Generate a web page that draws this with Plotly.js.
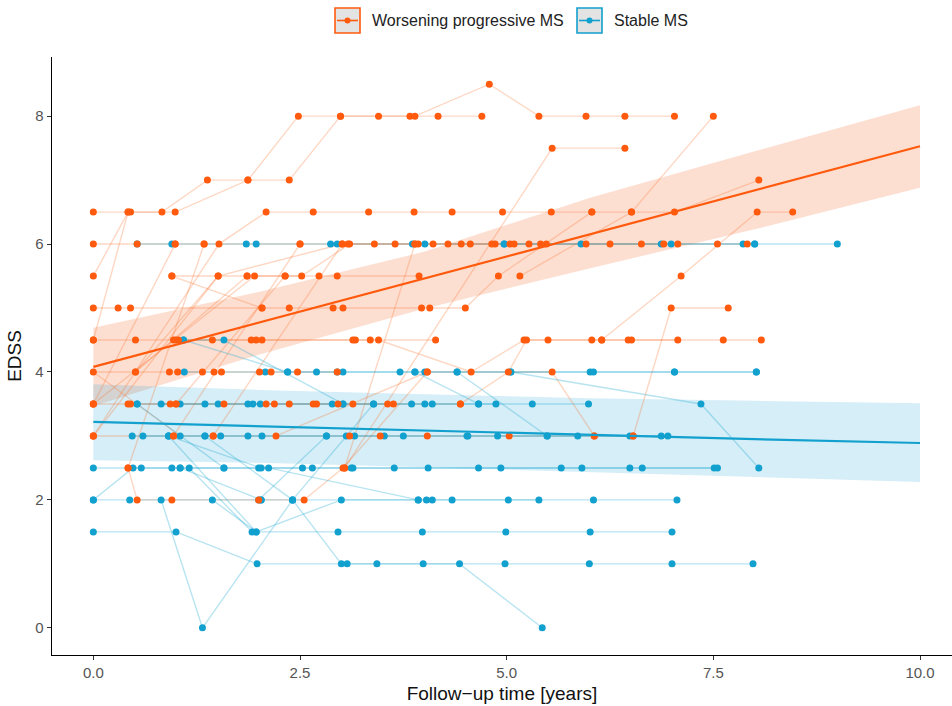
<!DOCTYPE html>
<html><head><meta charset="utf-8">
<script src="https://cdn.plot.ly/plotly-3.0.1.min.js"></script>
<style>html,body{margin:0;padding:0;background:#fff}#chart{width:952px;height:706px}</style>
</head><body><div id="chart"></div>
<script>
// ---- Worsening progressive MS trajectories: [time (years), EDSS]
const w01 = [[0,5.5],[0.42,6.5],[0.83,6.5],[1.38,7],[1.87,7],[2.48,8],[2.99,8],[3.45,8],[3.83,8],[4.17,8],[4.70,8]];
const w02 = [[0,6.5],[0.45,6.5],[0.99,6.5],[1.87,7],[2.37,7],[2.99,8],[3.89,8],[4.79,8.5],[5.39,8],[5.96,8],[6.43,8],[7.03,8]];
const w03 = [[3.04,2.5],[5.55,7.5],[6.43,7.5]];
const w04 = [[0,3],[1.52,6],[2.09,6.5],[2.66,6.5],[3.33,6.5],[3.88,6.5],[4.34,6.5],[4.95,6.5],[5.54,6.5],[6.03,6.5],[6.51,6.5],[7.03,6.5],[8.05,7]];
const w05 = [[5.16,5.5],[6.51,6.5],[7.50,8]];
const w06 = [[6.15,4.5],[7.11,5.5],[8.03,6.5],[8.46,6.5]];
const w07 = [[0,6],[0.53,6],[0.99,6],[1.34,6],[2.50,6],[3.08,6],[3.65,6],[4.11,6],[4.56,6],[5.04,6],[5.48,6],[6.25,6],[6.90,6],[7.55,6],[7.91,6]];
const w08 = [[0.51,4],[1.51,5.5],[3.01,6],[3.89,6],[4.45,6],[4.86,6],[5.41,6],[5.96,6],[6.63,6],[7.07,6]];
const w09 = [[0.95,5.5],[1.86,5.5],[2.32,5.5],[2.73,5.5],[2.95,5.5],[3.94,5.5]];
const w10 = [[0,3.5],[1.95,5.5],[2.52,5.5],[3.10,6],[3.40,6],[3.93,6],[4.29,6],[4.82,6],[5.09,6],[5.27,6]];
const w11 = [[0,5],[0.30,5],[0.45,5],[2.04,5],[2.37,5],[2.90,5],[3.02,5],[3.97,5],[4.07,5],[4.50,5],[4.90,5.5],[6.03,6.5]];
const w12 = [[6.53,3],[6.99,5],[7.68,5]];
const w13 = [[0,4.5],[0.51,4.5],[1.00,4.5],[1.44,4.5],[1.97,4.5],[3.14,4.5],[3.35,4.5],[4.14,4.5]];
const w14 = [[0.97,4.5],[1.03,4.5],[1.91,4.5],[2.04,4.5],[3.17,4.5],[3.45,4.5],[4.57,4],[5.21,4.5],[5.50,4.5],[6.15,4.5],[6.51,4.5],[7.62,4.5],[8.08,4.5]];
const w15 = [[4.44,3.5],[5.02,4],[5.24,4.5],[6.03,4.5],[6.47,4.5],[7.07,4.5]];
const w16 = [[0,4],[0.92,4],[1.02,4],[1.32,4],[1.46,4],[1.55,4],[2.01,4],[2.15,4],[2.47,4],[2.95,4]];
const w17 = [[2.21,3],[4.04,4],[5.55,4],[6.06,3]];
const w18 = [[0,3.5],[0.42,3.5],[0.93,3.5],[1.58,3.5],[2.09,3.5],[2.37,3.5],[2.66,3.5],[2.96,3.5],[3.56,3.5]];
const w19 = [[0.45,3.5],[1.00,3.5],[2.19,3.5],[2.70,3.5],[3.14,3.5],[3.63,3.5],[4.44,3.5]];
const w20 = [[0,3],[0.97,3],[1.45,3],[3.10,3],[3.47,3],[4.04,3],[5.03,3],[6.06,3],[6.53,3]];
const w21 = [[0.42,2.5],[0.53,2],[0.95,2],[2.00,2],[2.55,2],[3.02,2.5],[4.04,4]];
const w22 = [[0,4.5],[0.42,6.5]];
const w23 = [[0,3.5],[0.99,6]];
const w24 = [[0.42,2.5],[1.34,6]];
const w25 = [[0,3],[1.51,5.5]];
const w26 = [[0.51,4],[1.86,5.5]];
const w27 = [[0.97,3],[2.50,6]];
const w28 = [[1.00,3.5],[2.32,5.5]];
const w29 = [[1.45,3],[3.01,6]];
const w30 = [[0.95,5.5],[2.04,5]];
const w31 = [[3.04,2.5],[3.89,6]];
const w32 = [[0,4],[1.05,3]];
const worsening = [w01,w02,w03,w04,w05,w06,w07,w08,w09,w10,w11,w12,w13,w14,w15,w16,w17,w18,w19,w20,w21,
                   w22,w23,w24,w25,w26,w27,w28,w29,w30,w31];

// ---- Stable MS trajectories
const s01 = [[0,1.5],[1.00,1.5],[1.98,1],[3.07,1],[3.43,1],[4.43,1],[5.43,0]];
const s02 = [[0.82,2],[1.32,0],[2.41,2],[3.00,1],[3.99,1],[4.98,1],[6.00,1],[7.00,1],[7.98,1]];
const s03 = [[1.16,2.5],[1.92,1.5],[2.96,1.5],[3.98,1.5],[4.99,1.5],[6.01,1.5],[7.00,1.5]];
const s04 = [[1.44,2],[1.97,1.5],[3.00,2],[4.03,2],[5.02,2],[6.05,2],[7.06,2]];
const s05 = [[0,2],[0.44,2],[2.03,2],[3.93,2],[4.10,2],[4.34,2],[5.39,2]];
const s06 = [[0,2],[0.48,2.5],[0.95,2.5],[1.58,2.5],[2.53,2.5],[3.12,2.5],[3.64,2.5],[4.66,2.5],[5.66,2.5],[6.49,2.5],[7.51,2.5]];
const s07 = [[0,2.5],[0.58,2.5],[1.05,2.5],[2.00,2.5],[2.65,2.5],[3.14,2.5],[4.05,2.5],[4.93,2.5],[5.91,2.5],[6.64,2.5],[7.55,2.5]];
const s08 = [[0.91,3],[2.03,2.5],[2.12,2.5],[3.93,2]];
const s09 = [[5.05,4],[7.35,3.5],[8.05,2.5]];
const s10 = [[0.53,3.5],[1.05,3.5],[1.51,3.5],[1.93,3.5],[2.89,3.5],[3.39,3.5],[3.85,3.5],[4.66,3.5],[5.31,3.5],[5.99,3.5]];
const s11 = [[0.82,3.5],[1.35,3.5],[1.87,3.5],[2.02,3.5],[3.02,3.5],[4.01,3.5],[4.10,3.5],[4.87,3.5]];
const s12 = [[0.47,3],[0.91,3],[1.35,3],[1.87,3],[2.82,3],[3.16,3],[3.75,3],[4.53,3],[5.49,3],[6.49,3],[6.95,3]];
const s13 = [[0.60,3],[1.05,3],[1.54,3],[2.04,3],[3.06,3],[3.52,3],[4.52,3],[4.89,3],[5.86,3],[6.87,3]];
const s14 = [[1.10,4],[2.08,4],[2.70,4],[3.02,4],[3.71,4],[4.40,4],[5.05,4],[6.01,4],[7.03,4],[8.02,4]];
const s15 = [[2.35,4],[2.95,4],[3.89,4],[4.01,4],[6.05,4],[7.03,4],[8.02,4]];
const s16 = [[1.09,4.5],[1.58,4.5],[3.02,3.5]];
const s17 = [[0.53,6],[0.95,6],[1.85,6],[1.97,6],[2.87,6],[2.95,6],[3.86,6],[4.01,6],[4.97,6],[5.90,6],[6.87,6],[6.99,6],[7.86,6],[8.00,6]];
const s18 = [[4.97,6],[8.00,6],[9.00,6]];
const s20 = [[1.09,4.5],[2.35,4]];
const s21 = [[0.91,3],[1.97,1.5]];
const s22 = [[1.05,2.5],[2.03,2]];
const s23 = [[2.00,2],[2.82,3]];
const s24 = [[2.41,2],[3.39,3.5]];
const s25 = [[3.89,4],[4.66,3.5]];
const s26 = [[4.40,4],[5.49,3]];
const s27 = [[0.53,3.5],[1.58,2.5]];
const s28 = [[1.35,3],[2.41,2]];
const stable = [s01,s02,s03,s04,s05,s06,s07,s08,s09,s10,s11,s12,s13,s14,s15,s16,s17,s18,
                s20,s21,s22,s23,s24,s25,s26,s27,s28];

// ---- Fitted trends with confidence band
const fitX = [0, 2, 4, 6, 8, 10];
const worseFit = [4.08, 4.77, 5.46, 6.15, 6.84, 7.53];
const worseLo  = [3.47, 4.27, 4.99, 5.62, 6.23, 6.88];
const worseHi  = [4.69, 5.25, 5.88, 6.72, 7.45, 8.17];
const stableFit = [3.22, 3.15, 3.08, 3.02, 2.95, 2.89];
const stableLo  = [2.62, 2.58, 2.51, 2.44, 2.36, 2.28];
const stableHi  = [3.81, 3.72, 3.65, 3.59, 3.55, 3.51];

const xTicks = [0, 2.5, 5, 7.5, 10];
const xTickText = ['0.0', '2.5', '5.0', '7.5', '10.0'];
const yTicks = [0, 2, 4, 6, 8];
const legendLabels = ['Worsening progressive MS', 'Stable MS'];

const ORANGE = '#FF5A0D';
const BLUE = '#12A0CE';

function lineXY(groups) {
  const x = [], y = [];
  groups.forEach(g => { g.forEach(p => { x.push(p[0]); y.push(p[1]); }); x.push(null); y.push(null); });
  return {x, y};
}
function ptsXY(groups) {
  const x = [], y = [];
  groups.forEach(g => g.forEach(p => { x.push(p[0]); y.push(p[1]); }));
  return {x, y};
}
function band(lo, hi) {
  return {x: fitX.concat(fitX.slice().reverse()), y: hi.concat(lo.slice().reverse())};
}

const wl = lineXY(worsening.concat([w32])), sl = lineXY(stable);
const wp = ptsXY(worsening), sp = ptsXY(stable);
const wb = band(worseLo, worseHi), sb = band(stableLo, stableHi);

const traces = [
  {x: wb.x, y: wb.y, type: 'scatter', mode: 'lines', fill: 'toself', fillcolor: 'rgba(245,110,50,0.22)', line: {width: 0}, hoverinfo: 'skip', showlegend: false},
  {x: sb.x, y: sb.y, type: 'scatter', mode: 'lines', fill: 'toself', fillcolor: 'rgba(25,160,210,0.18)', line: {width: 0}, hoverinfo: 'skip', showlegend: false},
  {x: wl.x, y: wl.y, type: 'scatter', mode: 'lines', connectgaps: false, line: {color: 'rgba(250,110,40,0.28)', width: 1.4}, showlegend: false},
  {x: sl.x, y: sl.y, type: 'scatter', mode: 'lines', connectgaps: false, line: {color: 'rgba(20,165,210,0.30)', width: 1.4}, showlegend: false},
  {x: sp.x, y: sp.y, type: 'scatter', mode: 'markers', marker: {color: BLUE, size: 7}, showlegend: false},
  {x: wp.x, y: wp.y, type: 'scatter', mode: 'markers', marker: {color: ORANGE, size: 7}, showlegend: false},
  {x: fitX, y: worseFit, type: 'scatter', mode: 'lines', line: {color: ORANGE, width: 2.2}, showlegend: false},
  {x: fitX, y: stableFit, type: 'scatter', mode: 'lines', line: {color: BLUE, width: 2.2}, showlegend: false}
];

// custom legend (paper coordinates): plot area 52..952 px wide, 57..655 px tall
const PW = 900, PH = 598;
const px = v => (v - 52) / PW;
const py = v => (655 - v) / PH;
function legendKey(x0, color) {
  return [
    {type: 'rect', xref: 'paper', yref: 'paper', x0: px(x0), x1: px(x0 + 25), y0: py(33), y1: py(8), fillcolor: '#E3E3E3', line: {color: color, width: 1.6}},
    {type: 'line', xref: 'paper', yref: 'paper', x0: px(x0 + 2), x1: px(x0 + 23), y0: py(20.5), y1: py(20.5), line: {color: color, width: 1.6}},
    {type: 'circle', xref: 'paper', yref: 'paper', x0: px(x0 + 9.5), x1: px(x0 + 15.5), y0: py(23.5), y1: py(17.5), fillcolor: color, line: {color: color, width: 0}}
  ];
}

const layout = {
  width: 952, height: 706,
  margin: {l: 52, r: 0, t: 57, b: 51},
  paper_bgcolor: '#fff', plot_bgcolor: '#fff',
  font: {family: 'Liberation Sans, Arial, sans-serif', color: '#222'},
  xaxis: {
    range: [-0.5, 10.387], tickvals: xTicks, ticktext: xTickText,
    showgrid: false, zeroline: false, showline: true, linecolor: '#000', linewidth: 1.3,
    ticks: 'outside', ticklen: 4, tickcolor: '#333', tickwidth: 1,
    tickfont: {family: 'Liberation Sans Narrow, Liberation Sans, Arial, sans-serif', size: 15, color: '#555'},
    title: {text: 'Follow\u2212up time [years]', font: {size: 19, color: '#111'}, standoff: 6}
  },
  yaxis: {
    range: [-0.425, 8.925], tickvals: yTicks,
    showgrid: false, zeroline: false, showline: true, linecolor: '#000', linewidth: 1.3,
    ticks: 'outside', ticklen: 4, tickcolor: '#333', tickwidth: 1,
    tickfont: {family: 'Liberation Sans Narrow, Liberation Sans, Arial, sans-serif', size: 15, color: '#555'},
    title: {text: 'EDSS', font: {size: 19, color: '#111'}, standoff: 8}
  },
  shapes: legendKey(335, ORANGE).concat(legendKey(577, BLUE)),
  annotations: [
    {xref: 'paper', yref: 'paper', x: px(370), y: py(20.5), xanchor: 'left', yanchor: 'middle', text: legendLabels[0], showarrow: false, font: {size: 16, color: '#222'}},
    {xref: 'paper', yref: 'paper', x: px(612), y: py(20.5), xanchor: 'left', yanchor: 'middle', text: legendLabels[1], showarrow: false, font: {size: 16, color: '#222'}}
  ],
  showlegend: false
};

Plotly.newPlot('chart', traces, layout, {staticPlot: true, displayModeBar: false});
</script></body></html>
